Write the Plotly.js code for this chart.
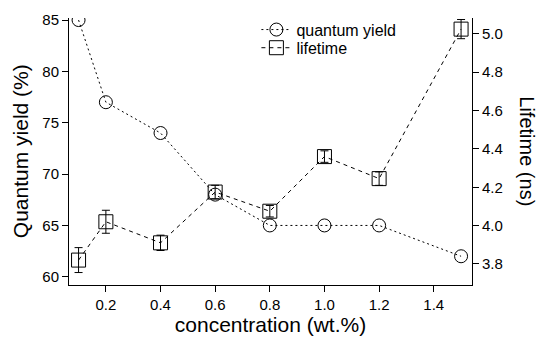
<!DOCTYPE html>
<html>
<head>
<script src="https://cdn.plot.ly/plotly-3.0.1.min.js"></script>
<style>body{margin:0;padding:0;background:#fff}#chart{width:539px;height:338px}</style>
</head>
<body>
<div id="chart"></div>
<script>
const concentration = [0.1, 0.2, 0.4, 0.6, 0.8, 1.0, 1.2, 1.5];
const quantumYield = [85, 77, 74, 68, 65, 65, 65, 62];
const lifetime = [3.82, 4.02, 3.91, 4.175, 4.075, 4.36, 4.245, 5.025];
const lifetimeErr = [0.065, 0.06, 0.04, 0.035, 0.03, 0.03, 0.035, 0.05];

const font = 'Liberation Sans, Arial, sans-serif';
const traces = [
  {
    x: concentration, y: quantumYield, name: 'quantum yield', type: 'scatter', mode: 'lines+markers',
    line: {color: '#000', width: 1, dash: '2px,3px'},
    marker: {symbol: 'circle-open', size: 13, color: '#000', line: {width: 1, color: '#000'}},
    yaxis: 'y', legend: 'legend'
  },
  {
    x: concentration, y: lifetime, name: 'lifetime', type: 'scatter', mode: 'lines+markers',
    line: {color: '#000', width: 1, dash: '4px,4px'},
    marker: {symbol: 'square-open', size: 14, color: '#000', line: {width: 1, color: '#000'}},
    error_y: {type: 'data', array: lifetimeErr, visible: true, color: '#000', thickness: 1, width: 4},
    yaxis: 'y2', legend: 'legend2'
  }
];

const xRange = [0.065, 1.54], yRange = [59.2, 85.2], y2Range = [3.69, 5.083];
function minorAxis(extra) {
  return Object.assign({tickmode: 'linear', ticks: 'outside', ticklen: 4, tickwidth: 1, tickcolor: '#000',
    showticklabels: false, showgrid: false, zeroline: false, showline: false, fixedrange: true}, extra);
}
const legendBase = {xanchor: 'left', yanchor: 'top', bgcolor: 'rgba(0,0,0,0)', font: {size: 16}, itemwidth: 30};
const layout = {
  width: 539, height: 338,
  margin: {l: 69, r: 67, t: 18, b: 53},
  paper_bgcolor: '#fff', plot_bgcolor: 'rgba(0,0,0,0)',
  font: {family: font, size: 15, color: '#000'},
  showlegend: true,
  legend: Object.assign({x: 0.465, y: 1.02}, legendBase),
  legend2: Object.assign({x: 0.465, y: 0.952}, legendBase),
  xaxis: {
    range: xRange, tick0: 0.2, dtick: 0.2, tickformat: '.1f',
    showline: true, linecolor: '#000', linewidth: 1, ticks: 'outside', ticklen: 6, tickcolor: '#000',
    showgrid: false, zeroline: false,
    title: {text: 'concentration (wt.%)', font: {size: 21}, standoff: 4}
  },
  yaxis: {
    range: yRange, tick0: 60, dtick: 5,
    showline: true, linecolor: '#000', linewidth: 1, ticks: 'outside', ticklen: 6, tickcolor: '#000',
    showgrid: false, zeroline: false
  },
  yaxis2: {
    overlaying: 'y', side: 'right',
    range: y2Range, tick0: 3.8, dtick: 0.2, tickformat: '.1f',
    showline: true, linecolor: '#000', linewidth: 1, ticks: 'outside', ticklen: 6, tickcolor: '#000',
    showgrid: false, zeroline: false
  },
  xaxis3: minorAxis({overlaying: 'x', anchor: 'y', side: 'bottom', range: xRange, tick0: 0, dtick: 0.05}),
  yaxis3: minorAxis({overlaying: 'y', anchor: 'x', side: 'left', range: yRange, tick0: 0, dtick: 1}),
  yaxis4: minorAxis({overlaying: 'y', anchor: 'x', side: 'right', range: y2Range, tick0: 0, dtick: 0.05}),
  annotations: [
    {text: 'Quantum yield (%)', xref: 'paper', yref: 'paper', x: -0.12, y: 0.5, xanchor: 'center', yanchor: 'middle',
     textangle: -90, showarrow: false, font: {size: 21}},
    {text: 'Lifetime (ns)', xref: 'paper', yref: 'paper', x: 1.137, y: 0.5, xanchor: 'center', yanchor: 'middle',
     textangle: 90, showarrow: false, font: {size: 20}}
  ]
};

Plotly.newPlot('chart', traces, layout, {displayModeBar: false, staticPlot: true});
</script>
</body>
</html>
